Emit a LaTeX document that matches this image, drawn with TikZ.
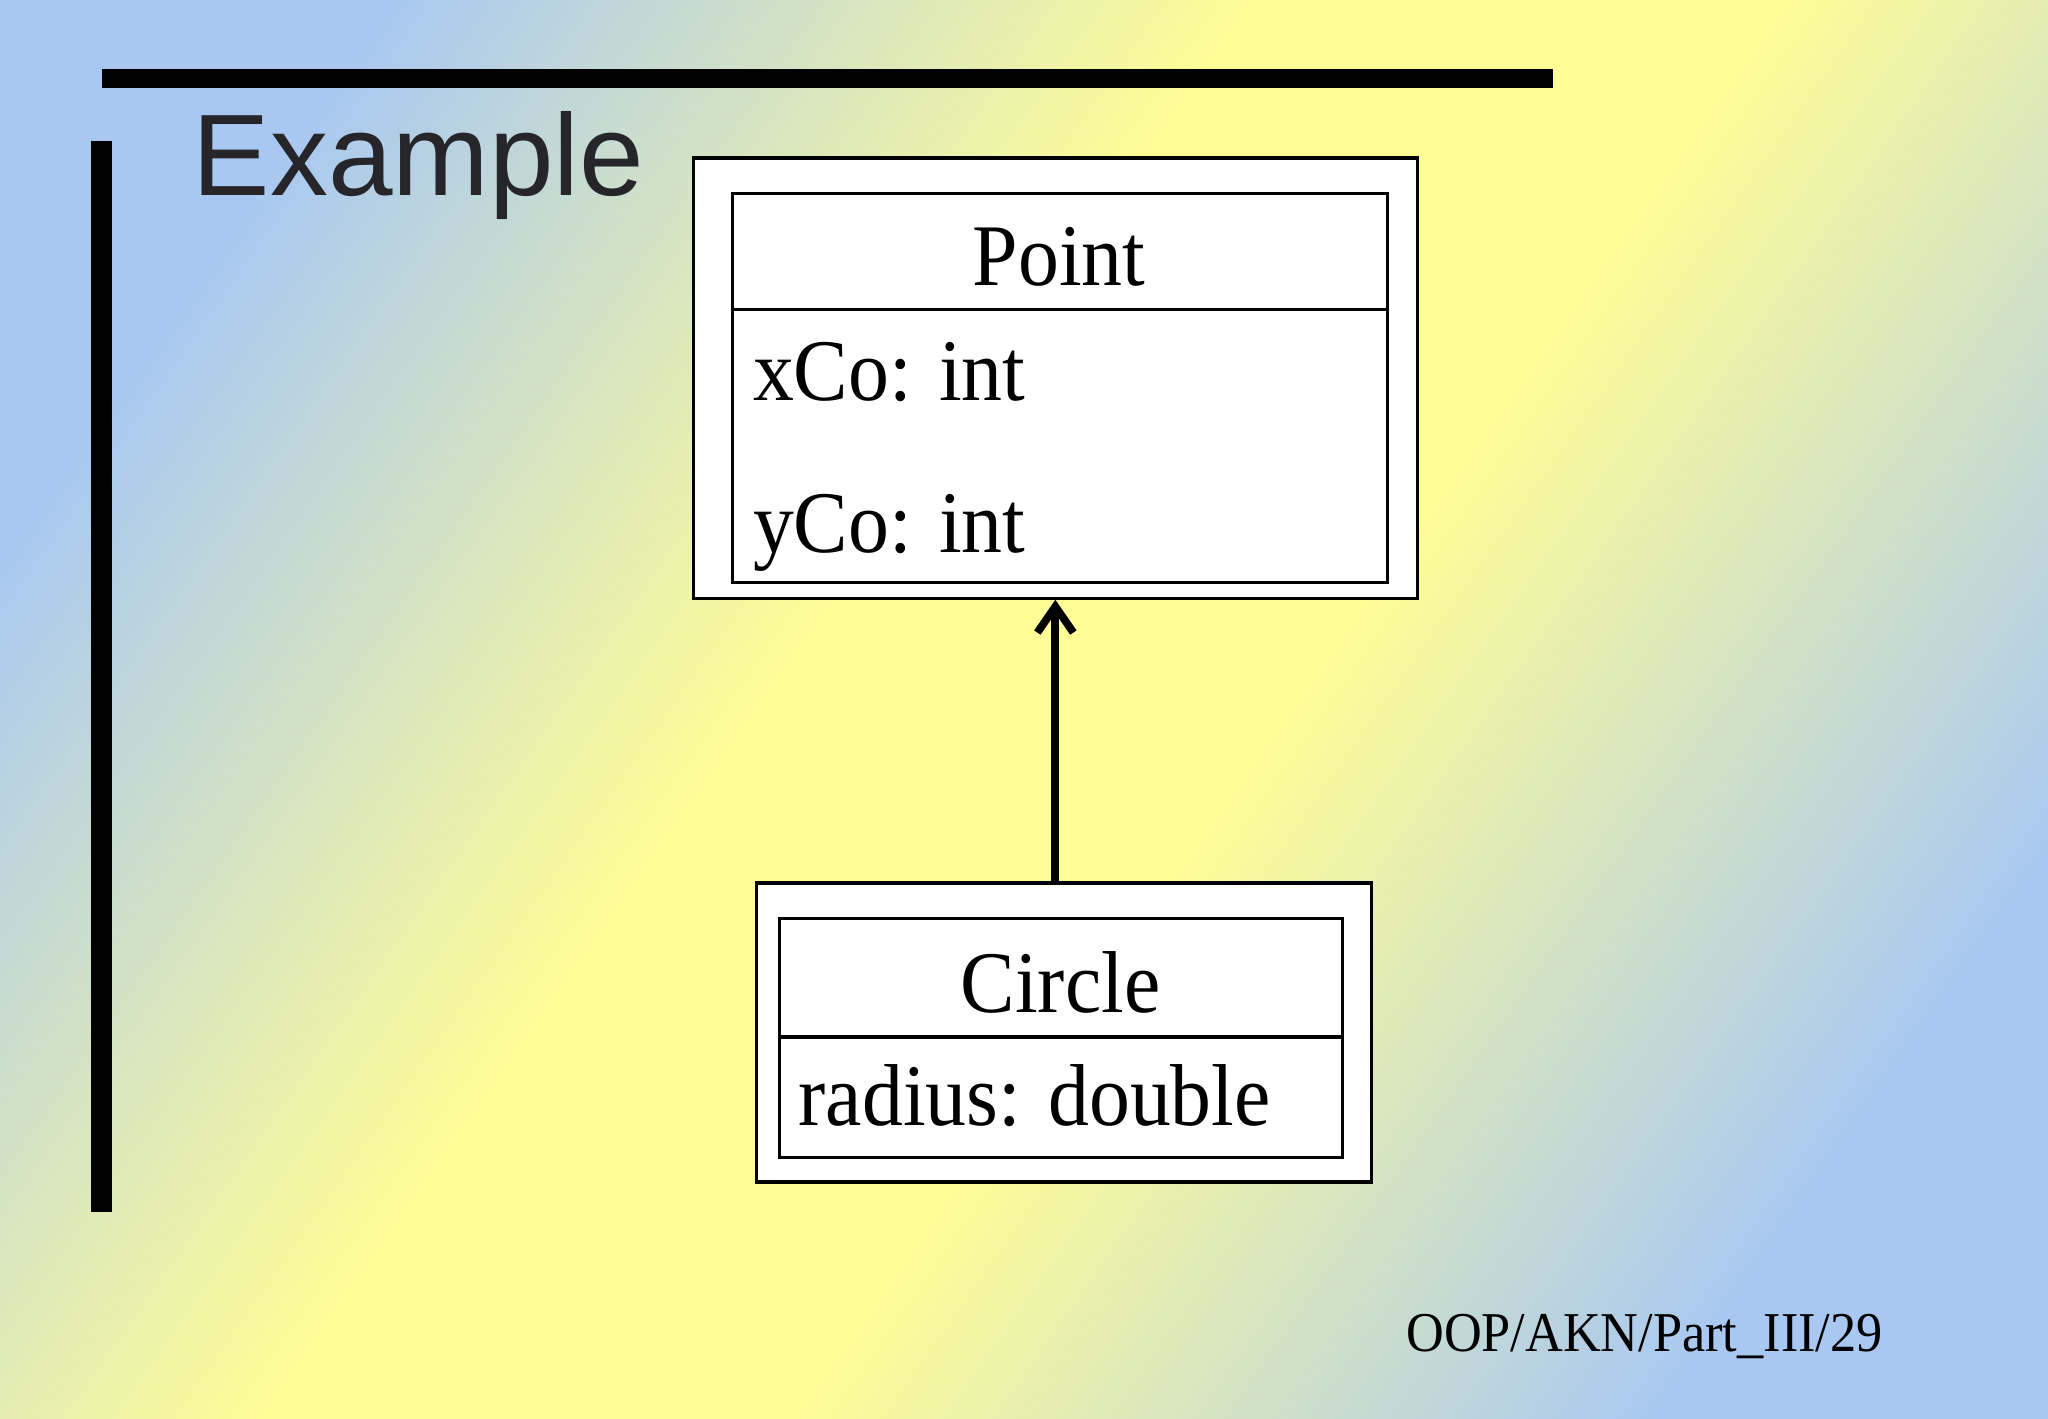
\documentclass[tikz,border=0pt]{standalone}
\usepackage{fontspec}
\setmainfont{Liberation Serif}[FakeStretch=0.93]
\setsansfont{Liberation Sans}
\usetikzlibrary{arrows.meta}
\definecolor{bgblue}{RGB}{168,200,242}
\definecolor{bgyellow}{RGB}{255,253,150}
\definecolor{titlegray}{RGB}{38,38,42}
\pgfdeclarehorizontalshading{slidebg}{100bp}{color(0bp)=(bgblue); color(24bp)=(bgblue); color(44bp)=(bgyellow); color(56bp)=(bgyellow); color(76bp)=(bgblue); color(100bp)=(bgblue)}
\tikzset{
  outerbox/.style={draw, fill=white, line width=0.9pt, inner sep=0pt},
  innerbox/.style={draw, line width=0.9pt},
  attr/.style={anchor=base west, font=\fontsize{25}{28}\selectfont, inner sep=0pt},
  classname/.style={font=\fontsize{25}{28}\selectfont, inner sep=0pt}
}
\begin{document}
\begin{tikzpicture}[x=0.01306cm, y=-0.01306cm]
	\shade[shading=slidebg, shading angle=-35] (0,1086) rectangle (1568,0);
	\useasboundingbox (0,0) rectangle (1568,1086);

	\fill (78,53) rectangle (1189,67);
	\fill (70,108) rectangle (86,928);
	\node[anchor=base west, font=\sffamily\fontsize{33}{38}\selectfont, text=titlegray, inner sep=0pt] (title) at (147,150) {Example};

	% Point
	\node[outerbox, minimum width=7.235cm, minimum height=4.401cm] (pointOuter) at (808,289.5) {};
	\draw[innerbox] (561,148) rectangle (1062,446);
	\draw[innerbox] (561,237) -- (1062,237);
	\node[classname] (pointName) at (811,197) {Point};
	\node[attr] (xco) at (576,307) {xCo: int};
	\node[attr] (yco) at (576,423) {yCo: int};

	% Circle
	\node[outerbox, minimum width=6.151cm, minimum height=2.991cm] (circleOuter) at (814.5,790.5) {};
	\draw[innerbox] (597,703) rectangle (1028,886);
	\draw[innerbox] (597,794) -- (1028,794);
	\node[classname] (circleName) at (812,752) {Circle};
	\node[attr] (radius) at (611,862) {radius: double};

	\draw[line width=2.2pt, -{Straight Barb[length=2.6mm, width=3.6mm]}] (circleOuter.north -| 808,0) -- (pointOuter.south -| 808,0);

	\node[anchor=base east, font=\fontsize{16}{19}\selectfont, inner sep=0pt] (footer) at (1442,1035) {OOP/AKN/Part\_III/29};
\end{tikzpicture}
\end{document}
